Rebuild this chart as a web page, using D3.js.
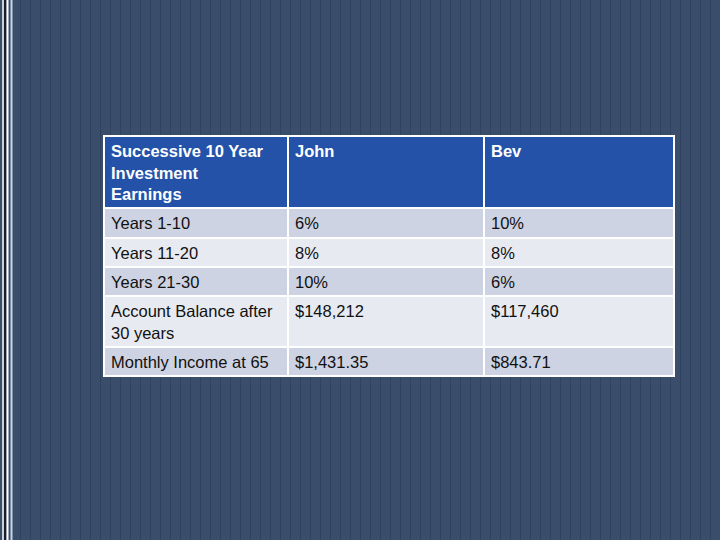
<!DOCTYPE html>
<html><head><meta charset="utf-8">
<script src="https://cdn.jsdelivr.net/npm/d3@7"></script>
<style>body{margin:0;background:#3a4e6b}</style>
</head><body>
<svg id="chart" width="720" height="540"></svg>
<script>
const headers = ['Successive 10 Year\nInvestment\nEarnings', 'John', 'Bev']
const rowLabels = ['Years 1-10', 'Years 11-20', 'Years 21-30', 'Account Balance after\n30 years', 'Monthly Income at 65']
const john = ['6%', '8%', '10%', '$148,212', '$1,431.35']
const bev = ['10%', '8%', '6%', '$117,460', '$843.71']

const svg = d3.select('#chart')

// background stripes
svg.append('rect').attr('width', 720).attr('height', 540).attr('fill', '#3a4e6b')
svg.selectAll('line.stripe').data(d3.range(20, 720, 10)).enter().append('line')
    .attr('x1', d => d + 0.5).attr('x2', d => d + 0.5).attr('y1', 0).attr('y2', 540)
    .attr('stroke', '#2f4260').attr('stroke-width', 1)
// left edge lines
;[[3, '#ffffff', 1.5], [5, '#111111', 1.5], [7.5, '#ffffff', 2], [11.5, '#c8d4e6', 2]].forEach(([x, c, w]) => {
    svg.append('line').attr('x1', x).attr('x2', x).attr('y1', 0).attr('y2', 540)
        .attr('stroke', c).attr('stroke-width', w)
})

const colX = [104, 288, 484, 674]
const rowY = [136, 208, 238, 267, 296, 347, 376]
const fills = ['#2352a8', '#cdd3e2', '#e8eaf1', '#cdd3e2', '#e8eaf1', '#cdd3e2']

const table = [headers].concat(rowLabels.map((l, i) => [l, john[i], bev[i]]))

svg.append('rect').attr('x', colX[0] - 1).attr('y', rowY[0] - 1)
    .attr('width', colX[3] - colX[0] + 2).attr('height', rowY[6] - rowY[0] + 2).attr('fill', '#fff')

const rows = svg.selectAll('g.row').data(table).enter().append('g')
rows.each(function(row, ri) {
    const g = d3.select(this)
    row.forEach((txt, ci) => {
        const x0 = colX[ci], x1 = colX[ci + 1], y0 = rowY[ri], y1 = rowY[ri + 1]
        g.append('rect').attr('x', x0 + 1).attr('y', y0 + 1)
            .attr('width', x1 - x0 - 2).attr('height', y1 - y0 - 2).attr('fill', fills[ri])
        const t = g.append('text').attr('x', x0 + 7).attr('y', y0 + 21)
            .attr('font-family', 'Liberation Sans, Arial, sans-serif').attr('font-size', 16.5)
            .attr('font-weight', ri === 0 ? 'bold' : 'normal')
            .attr('fill', ri === 0 ? '#ffffff' : '#111111')
        txt.split('\n').forEach((line, li) => {
            t.append('tspan').attr('x', x0 + 7).attr('dy', li ? 21.5 : 0).text(line)
        })
    })
})
</script>
</body></html>
